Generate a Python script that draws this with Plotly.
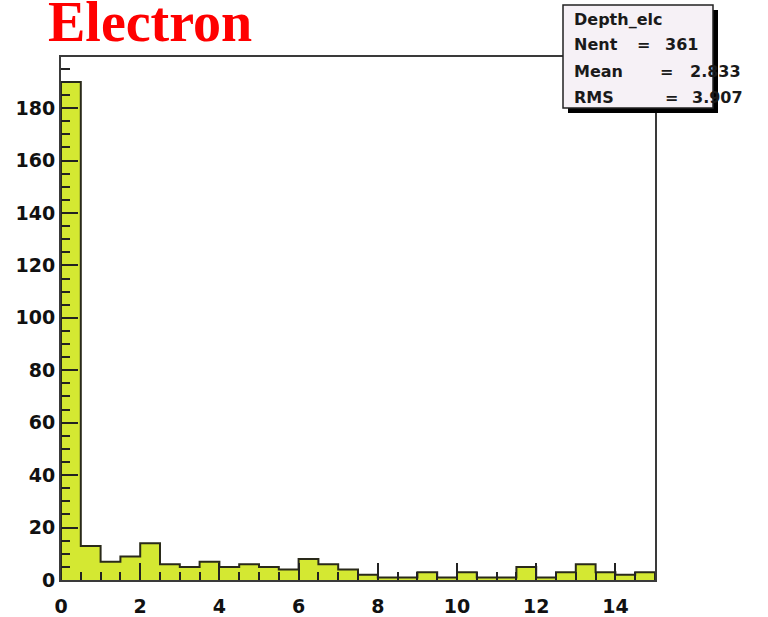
import plotly.graph_objects as go

# ---- data ----
bin_edges = [i * 0.5 for i in range(31)]
counts = [190, 13, 7, 9, 14, 6, 5, 7, 5, 6,
          5, 4, 8, 6, 4, 2, 1, 1, 3, 1,
          3, 1, 1, 5, 1, 3, 6, 3, 2, 3]
hist_name = "Depth_elc"
stat_labels = ["Nent", "Mean", "RMS"]
stat_values = ["361", "2.833", "3.907"]
title_text = "Electron"
x_ticks = [0, 2, 4, 6, 8, 10, 12, 14]
y_ticks = [0, 20, 40, 60, 80, 100, 120, 140, 160, 180]

centers = [(bin_edges[i] + bin_edges[i + 1]) / 2 for i in range(len(counts))]
widths = [bin_edges[i + 1] - bin_edges[i] for i in range(len(counts))]

W, H = 768, 617
L, R, T, B = 61, 655, 57, 580
def px(x):
    return (x - L) / (R - L)
def py(y):
    return (B - y) / (B - T)

fill = "#d4e832"
fig = go.Figure()
fig.add_trace(go.Bar(x=centers, y=counts, width=widths, marker=dict(color=fill, line=dict(width=0)),
                     showlegend=False, hoverinfo="skip"))
# step outline
sx = [bin_edges[0]] + bin_edges[:-1] + [bin_edges[-1], bin_edges[-1]]
sy = [0] + counts + [counts[-1], 0]
fig.add_trace(go.Scatter(x=sx, y=sy, mode="lines", line=dict(color="#2a2a1a", width=2, shape="hv"),
                         showlegend=False, hoverinfo="skip"))

tickfont = dict(family="DejaVu Sans", size=19, color="#111", weight="bold")
ymax = max(counts) * 1.05
fig.update_xaxes(range=[0, 15], tickvals=x_ticks, ticktext=[str(v) for v in x_ticks],
                 ticks="inside", ticklen=17, tickwidth=2, tickcolor="#222",
                 minor=dict(dtick=0.5, tick0=0, ticks="inside", ticklen=8, tickwidth=2, tickcolor="#222"),
                 showline=True, mirror=True, linecolor="#3a3a3a", linewidth=2, automargin=False,
                 showgrid=False, zeroline=False, tickfont=tickfont, ticklabelstandoff=8)
fig.update_yaxes(range=[0, ymax], tickvals=y_ticks, ticktext=[str(v) for v in y_ticks],
                 ticks="inside", ticklen=17, tickwidth=2, tickcolor="#222",
                 minor=dict(dtick=5, tick0=0, ticks="inside", ticklen=9, tickwidth=2, tickcolor="#222"),
                 showline=True, mirror=True, linecolor="#3a3a3a", linewidth=2, automargin=False,
                 showgrid=False, zeroline=False, tickfont=tickfont)

shapes = [
    dict(type="rect", xref="paper", yref="paper", x0=px(568), x1=px(718), y0=py(113), y1=py(10),
         fillcolor="#000", line=dict(width=0), layer="above"),
    dict(type="rect", xref="paper", yref="paper", x0=px(563), x1=px(713), y0=py(108), y1=py(5),
         fillcolor="#f6f1f6", line=dict(color="#222", width=1.5), layer="above"),
]
sfont = dict(family="DejaVu Sans", size=16, color="#1a1a1a", weight="bold")
ann = [
    dict(text=title_text, xref="paper", yref="paper", x=px(46), y=py(22), xanchor="left", yanchor="middle",
         showarrow=False, font=dict(family="Liberation Serif", size=56, color="#ff0000", weight="bold")),
    dict(text=hist_name, xref="paper", yref="paper", x=px(572), y=py(20), xanchor="left", yanchor="middle",
         showarrow=False, font=sfont),
]
rows_y = [45, 72, 97]
eq_x = [635, 658, 663]
val_x = [663, 688, 690]
for lab, val, yy, ex, vx in zip(stat_labels, stat_values, rows_y, eq_x, val_x):
    ann.append(dict(text=lab, xref="paper", yref="paper", x=px(572), y=py(yy), xanchor="left", yanchor="middle",
                    showarrow=False, font=sfont))
    ann.append(dict(text="=", xref="paper", yref="paper", x=px(ex), y=py(yy), xanchor="left", yanchor="middle",
                    showarrow=False, font=sfont))
    ann.append(dict(text=val, xref="paper", yref="paper", x=px(vx), y=py(yy), xanchor="left", yanchor="middle",
                    showarrow=False, font=sfont))

fig.update_layout(width=W, height=H, margin=dict(l=L, r=W - R, t=T, b=H - B, autoexpand=False),
                  paper_bgcolor="white", plot_bgcolor="white", bargap=0,
                  shapes=shapes, annotations=ann)
fig.write_html("out.html")
